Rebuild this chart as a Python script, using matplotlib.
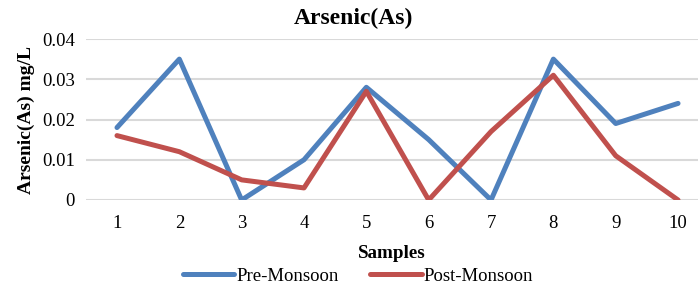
import matplotlib.pyplot as plt

samples = [1, 2, 3, 4, 5, 6, 7, 8, 9, 10]
pre_monsoon = [0.018, 0.035, 0.0, 0.010, 0.028, 0.015, 0.0, 0.035, 0.019, 0.024]
post_monsoon = [0.016, 0.012, 0.005, 0.003, 0.027, 0.0, 0.017, 0.031, 0.011, 0.0]
y_ticks = [0, 0.01, 0.02, 0.03, 0.04]
y_labels = ['0', '0.01', '0.02', '0.03', '0.04']

plt.rcParams['font.family'] = ['Liberation Serif', 'DejaVu Serif']

fig = plt.figure(figsize=(6.98, 2.87), dpi=100)
ax = fig.add_axes([86/698, 87/287, 612/698, 161/287])

ax.plot(samples, pre_monsoon, color='#4F81BD', linewidth=3.6, label='Pre-Monsoon', solid_capstyle='round')
ax.plot(samples, post_monsoon, color='#C0504D', linewidth=3.6, label='Post-Monsoon', solid_capstyle='round')

ax.set_xlim(0.503, 10.32)
ax.set_ylim(0, 0.04)
ax.set_xticks(samples)
ax.set_yticks(y_ticks)
ax.set_yticklabels(y_labels)
ax.tick_params(length=0, labelsize=13.5)
ax.tick_params(axis='x', pad=11)
ax.tick_params(axis='y', pad=8)
ax.yaxis.grid(True, color='#D9D9D9', linewidth=1.5)
ax.set_axisbelow(True)
for s in ax.spines.values():
    s.set_visible(False)

fig.text(353/698, 1 - 18/287, 'Arsenic(As)', fontsize=17, fontweight='bold', ha='center', va='center')
ax.set_ylabel('Arsenic(As) mg/L', fontsize=14, fontweight='bold', labelpad=5)
ax.set_xlabel('Samples', fontsize=13.7, fontweight='bold', labelpad=9)

fig.legend(loc='center', bbox_to_anchor=(358/698, 1 - 276/287), ncol=2, frameon=False,
           fontsize=13.5, handlelength=2.75, columnspacing=1.7, handletextpad=0.1,
           borderaxespad=0, borderpad=0)

plt.savefig('out.png', dpi=100)
